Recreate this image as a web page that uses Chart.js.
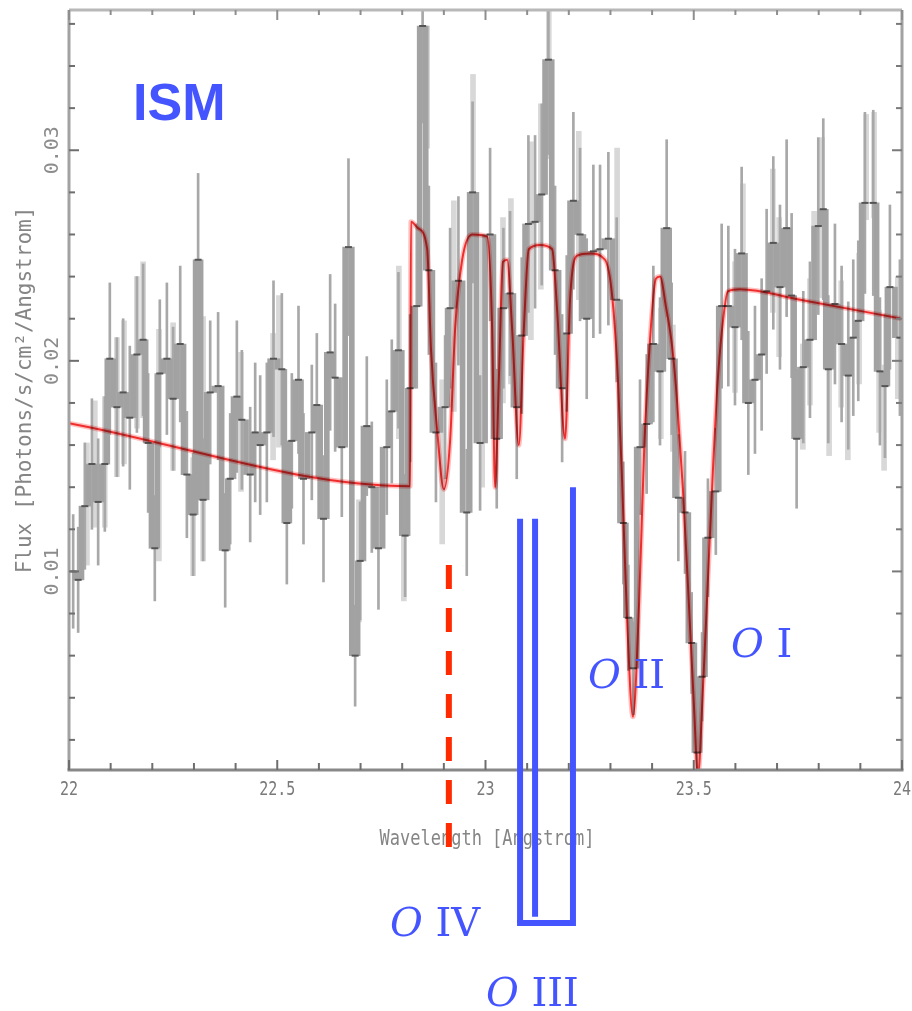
<!DOCTYPE html>
<html>
<head>
<meta charset="utf-8">
<script src="https://cdn.jsdelivr.net/npm/chart.js@4.4.1/dist/chart.umd.min.js"></script>
<style>
  html, body { margin: 0; padding: 0; background: #fff; }
  #wrap { width: 912px; height: 1011px; }
</style>
</head>
<body>
<div id="wrap"><canvas id="spec" width="912" height="1011"></canvas></div>
<script>
// measured spectrum (darker histogram), wavelength in Angstrom
const darkWave = [
  22.010, 22.022, 22.038, 22.055, 22.070, 22.086, 22.098, 22.115, 22.130, 22.146,
  22.163, 22.178, 22.190, 22.206, 22.218, 22.235, 22.250, 22.267, 22.283, 22.298,
  22.310, 22.322, 22.339, 22.358, 22.375, 22.387, 22.403, 22.415, 22.435, 22.447,
  22.459, 22.475, 22.491, 22.511, 22.523, 22.535, 22.551, 22.563, 22.583, 22.595,
  22.611, 22.627, 22.639, 22.655, 22.671, 22.687, 22.699, 22.715, 22.727, 22.743,
  22.763, 22.775, 22.791, 22.807, 22.819, 22.835, 22.849, 22.864, 22.881, 22.903,
  22.915, 22.935, 22.955, 22.969, 22.987, 23.011, 23.027, 23.043, 23.059, 23.075,
  23.087, 23.103, 23.119, 23.135, 23.151, 23.167, 23.184, 23.195, 23.211, 23.227,
  23.243, 23.259, 23.275, 23.295, 23.315, 23.331, 23.343, 23.355, 23.371, 23.387,
  23.403, 23.419, 23.435, 23.447, 23.463, 23.479, 23.495, 23.508, 23.520, 23.534,
  23.553, 23.567, 23.583, 23.599, 23.615, 23.631, 23.647, 23.663, 23.675, 23.691,
  23.707, 23.723, 23.735, 23.747, 23.763, 23.779, 23.799, 23.811, 23.823, 23.839,
  23.855, 23.871, 23.883, 23.895, 23.911, 23.931, 23.947, 23.959, 23.971, 23.995
];
const darkFlux = [
  0.0100, 0.0096, 0.0131, 0.0151, 0.0133, 0.0151, 0.0201, 0.0178, 0.0185, 0.0173,
  0.0203, 0.0210, 0.0161, 0.0111, 0.0194, 0.0201, 0.0182, 0.0208, 0.0146, 0.0127,
  0.0248, 0.0134, 0.0185, 0.0188, 0.0110, 0.0144, 0.0183, 0.0172, 0.0146, 0.0166,
  0.0160, 0.0166, 0.0201, 0.0196, 0.0123, 0.0162, 0.0191, 0.0144, 0.0166, 0.0179,
  0.0125, 0.0204, 0.0192, 0.0159, 0.0254, 0.0060, 0.0105, 0.0169, 0.0140, 0.0111,
  0.0159, 0.0176, 0.0205, 0.0117, 0.0187, 0.0226, 0.0359, 0.0243, 0.0166, 0.0178,
  0.0225, 0.0238, 0.0128, 0.0280, 0.0161, 0.0260, 0.0163, 0.0225, 0.0232, 0.0178,
  0.0212, 0.0265, 0.0266, 0.0279, 0.0343, 0.0243, 0.0187, 0.0213, 0.0276, 0.0260,
  0.0220, 0.0252, 0.0253, 0.0258, 0.0229, 0.0123, 0.0078, 0.0054, 0.0159, 0.0170,
  0.0208, 0.0195, 0.0263, 0.0201, 0.0135, 0.0128, 0.0066, 0.0014, 0.0050, 0.0116,
  0.0138, 0.0226, 0.0226, 0.0216, 0.0251, 0.0180, 0.0191, 0.0203, 0.0233, 0.0256,
  0.0235, 0.0263, 0.0231, 0.0163, 0.0197, 0.0210, 0.0264, 0.0272, 0.0196, 0.0227,
  0.0208, 0.0193, 0.0211, 0.0219, 0.0275, 0.0275, 0.0195, 0.0188, 0.0235, 0.0211
];
const darkErr = [
  0.0027, 0.0025, 0.0030, 0.0031, 0.0030, 0.0032, 0.0036, 0.0033, 0.0035, 0.0034,
  0.0037, 0.0036, 0.0033, 0.0025, 0.0035, 0.0036, 0.0034, 0.0037, 0.0030, 0.0029,
  0.0041, 0.0029, 0.0034, 0.0035, 0.0027, 0.0031, 0.0036, 0.0033, 0.0032, 0.0033,
  0.0033, 0.0033, 0.0037, 0.0036, 0.0029, 0.0032, 0.0035, 0.0031, 0.0032, 0.0034,
  0.0030, 0.0037, 0.0035, 0.0033, 0.0042, 0.0024, 0.0028, 0.0033, 0.0031, 0.0029,
  0.0032, 0.0034, 0.0037, 0.0029, 0.0035, 0.0039, 0.0046, 0.0040, 0.0033, 0.0034,
  0.0038, 0.0040, 0.0030, 0.0043, 0.0032, 0.0041, 0.0033, 0.0038, 0.0039, 0.0034,
  0.0037, 0.0042, 0.0041, 0.0043, 0.0045, 0.0040, 0.0035, 0.0037, 0.0042, 0.0041,
  0.0038, 0.0041, 0.0040, 0.0041, 0.0039, 0.0029, 0.0025, 0.0022, 0.0032, 0.0033,
  0.0037, 0.0035, 0.0042, 0.0036, 0.0030, 0.0029, 0.0024, 0.0015, 0.0021, 0.0028,
  0.0030, 0.0039, 0.0038, 0.0037, 0.0041, 0.0034, 0.0035, 0.0036, 0.0039, 0.0041,
  0.0039, 0.0042, 0.0039, 0.0033, 0.0036, 0.0037, 0.0042, 0.0043, 0.0035, 0.0038,
  0.0037, 0.0035, 0.0037, 0.0038, 0.0043, 0.0044, 0.0035, 0.0034, 0.0039, 0.0037
];

// second (lighter) spectrum
const lightWave = [
  22.043, 22.062, 22.086, 22.115, 22.132, 22.163, 22.178, 22.216, 22.250, 22.298,
  22.322, 22.413, 22.490, 22.504, 22.696, 22.792, 22.804, 22.860, 22.896, 22.924,
  22.970, 22.992, 23.042, 23.061, 23.109, 23.133, 23.152, 23.224, 23.316, 23.323,
  23.421, 23.450, 23.599, 23.618, 23.690, 23.705, 23.762, 23.779, 23.789, 23.808,
  23.825, 23.854, 23.870, 23.897, 23.914, 23.933, 23.945, 23.957, 23.990
];
const lightFlux = [
  0.0132, 0.0151, 0.0152, 0.0178, 0.0185, 0.0204, 0.0210, 0.0160, 0.0183, 0.0126,
  0.0163, 0.0171, 0.0183, 0.0195, 0.0105, 0.0204, 0.0116, 0.0330, 0.0152, 0.0226,
  0.0308, 0.0200, 0.0224, 0.0233, 0.0257, 0.0278, 0.0331, 0.0269, 0.0258, 0.0169,
  0.0194, 0.0187, 0.0216, 0.0251, 0.0257, 0.0235, 0.0183, 0.0209, 0.0251, 0.0268,
  0.0180, 0.0208, 0.0178, 0.0220, 0.0292, 0.0293, 0.0195, 0.0173, 0.0211
];
const lightErr = [
  0.0029, 0.0030, 0.0031, 0.0033, 0.0034, 0.0036, 0.0037, 0.0055, 0.0035, 0.0028,
  0.0058, 0.0033, 0.0030, 0.0036, 0.0029, 0.0041, 0.0030, 0.0029, 0.0039, 0.0050,
  0.0028, 0.0060, 0.0044, 0.0044, 0.0047, 0.0044, 0.0035, 0.0040, 0.0043, 0.0045,
  0.0031, 0.0030, 0.0031, 0.0033, 0.0034, 0.0033, 0.0025, 0.0030, 0.0020, 0.0038,
  0.0025, 0.0030, 0.0025, 0.0031, 0.0025, 0.0025, 0.0029, 0.0025, 0.0029
];

// absorption model (red)
const modelWave = [
  22.000, 22.819, 22.821, 22.838, 22.860, 22.869, 22.884, 22.900, 22.915, 22.927,
  22.944, 22.968, 23.004, 23.016, 23.023, 23.032, 23.042, 23.052, 23.064, 23.080,
  23.092, 23.104, 23.131, 23.160, 23.172, 23.191, 23.203, 23.220, 23.251, 23.287,
  23.304, 23.318, 23.328, 23.340, 23.354, 23.369, 23.381, 23.395, 23.409, 23.419,
  23.433, 23.448, 23.460, 23.474, 23.489, 23.501, 23.510, 23.522, 23.534, 23.546,
  23.556, 23.568, 23.582, 23.611, 23.755, 24.000
];
const modelFlux = [
  0.01704, 0.01405, 0.0266, 0.0263, 0.0253, 0.0206, 0.0167, 0.0139, 0.0162, 0.0215,
  0.0248, 0.0260, 0.0259, 0.0215, 0.0140, 0.0191, 0.0247, 0.0248, 0.0215, 0.0160,
  0.0215, 0.0253, 0.0255, 0.0253, 0.0224, 0.0163, 0.0229, 0.0250, 0.0251, 0.0248,
  0.0231, 0.0191, 0.0143, 0.0077, 0.0031, 0.0086, 0.0158, 0.0210, 0.0239, 0.0240,
  0.0226, 0.0207, 0.0181, 0.0139, 0.0082, 0.0034, 0.0003, 0.0044, 0.0096, 0.0148,
  0.0186, 0.0215, 0.0233, 0.0234, 0.0229, 0.0220
];

const xTicks = [22, 22.5, 23, 23.5, 24];
const xTickLabels = ['22', '22.5', '23', '23.5', '24'];
const yTicks = [0.01, 0.02, 0.03];
const yTickLabels = ['0.01', '0.02', '0.03'];

// line markers
const oIVWave = 22.912;
const oIVRange = [0.0103, -0.0032];
const oIIIWaves = [23.083, 23.119, 23.210];
const oIIITop = [0.0125, 0.0125, 0.0140];
const oIIIBottom = [-0.0067, -0.0064, -0.0066];

const lightBoxes = lightWave.map((w, i) => ({ x: w, y: [lightFlux[i] - lightErr[i], lightFlux[i] + lightErr[i]] }));
const whiskers = darkWave.map((w, i) => ({ x: w, y: [darkFlux[i] - darkErr[i], darkFlux[i] + darkErr[i]] }));
const steps = darkWave.slice(1).map((w, i) => ({ x: (darkWave[i] + w) / 2, y: [darkFlux[i], darkFlux[i + 1]] }));
const levels = darkWave.map((w, i) => ({ x: w, y: darkFlux[i] }));
const model = modelWave.map((w, i) => ({ x: w, y: modelFlux[i] }));

const BLUE = 'rgb(68,85,255)';

function txt(ctx, s, x, y, font, color, o = {}) {
  ctx.save();
  ctx.translate(x, y);
  if (o.rot) ctx.rotate(o.rot);
  ctx.scale(o.sx || 1, o.sy || 1);
  ctx.font = font;
  ctx.fillStyle = color;
  ctx.textAlign = o.align || 'center';
  ctx.textBaseline = o.base || 'middle';
  ctx.fillText(s, 0, 0);
  ctx.restore();
}

function ionLabel(ctx, stage, x, y) {
  ctx.save();
  ctx.fillStyle = BLUE;
  ctx.textBaseline = 'alphabetic';
  ctx.textAlign = 'left';
  ctx.font = 'italic 40px "DejaVu Serif"';
  ctx.fillText('O', x, y);
  const w = ctx.measureText('O').width;
  ctx.font = '40px "DejaVu Serif"';
  ctx.fillText(' ' + stage, x + w, y);
  ctx.restore();
}

const deco = {
  id: 'deco',
  beforeDatasetDraw(chart, args) {
    if (chart.data.datasets[args.index].label.startsWith('model')) {
      chart.ctx.globalCompositeOperation = 'multiply';
    }
  },
  afterDatasetDraw(chart) {
    chart.ctx.globalCompositeOperation = 'source-over';
  },
  afterDraw(chart) {
    const { ctx, chartArea: a } = chart;
    const xs = chart.scales.x, ys = chart.scales.y;
    ctx.save();

    // frame
    ctx.lineWidth = 3;
    const edge = (c, x1, y1, x2, y2) => {
      ctx.strokeStyle = c; ctx.beginPath(); ctx.moveTo(x1, y1); ctx.lineTo(x2, y2); ctx.stroke();
    };
    edge('#b8b8b8', a.left, a.top, a.right, a.top);
    edge('#a2a2a2', a.left, a.top, a.left, a.bottom);
    edge('#a2a2a2', a.right, a.top, a.right, a.bottom);
    edge('#888888', a.left - 1.5, a.bottom, a.right + 1.5, a.bottom);

    // inward ticks
    ctx.lineWidth = 2;
    ctx.strokeStyle = '#6e6e6e';
    for (let k = 0; k <= 20; k++) {
      const px = xs.getPixelForValue(22 + k * 0.1);
      const major = k % 5 === 0;
      edge('#6e6e6e', px, a.bottom, px, a.bottom - (major ? 10 : 7));
      edge('#8e8e8e', px, a.top, px, a.top + (major ? 10 : 5));
    }
    for (let k = 1; k <= 18; k++) {
      const py = ys.getPixelForValue(k * 0.002);
      const major = k % 5 === 0;
      edge('#6e6e6e', a.left, py, a.left + (major ? 10 : 6), py);
      edge('#7a7a7a', a.right, py, a.right - (major ? 10 : 6), py);
    }

    // tick labels
    xTicks.forEach((v, i) => {
      txt(ctx, xTickLabels[i], xs.getPixelForValue(v), 790, '15px "DejaVu Sans Mono"', '#7a7a7a', { sy: 1.25 });
    });
    yTicks.forEach((v, i) => {
      txt(ctx, yTickLabels[i], 53, ys.getPixelForValue(v), '20px "DejaVu Sans Mono"', '#8c8c8c', { rot: -Math.PI / 2 });
    });

    // axis titles
    txt(ctx, 'Flux [Photons/s/cm\u00B2/Angstrom]', 26, 390, '21px "DejaVu Sans Mono"', '#858585', { rot: -Math.PI / 2 });
    txt(ctx, 'Wavelength [Angstrom]', 487, 840, '17px "DejaVu Sans Mono"', '#858585', { sy: 1.2 });

    // O IV marker (dashed red)
    ctx.lineWidth = 6;
    ctx.strokeStyle = '#ff2a00';
    ctx.setLineDash([24, 19]);
    const xo4 = xs.getPixelForValue(oIVWave);
    ctx.beginPath();
    ctx.moveTo(xo4, ys.getPixelForValue(oIVRange[0]));
    ctx.lineTo(xo4, ys.getPixelForValue(oIVRange[1]));
    ctx.stroke();
    ctx.setLineDash([]);

    // O III markers (blue)
    ctx.strokeStyle = BLUE;
    const xo3 = oIIIWaves.map(w => xs.getPixelForValue(w));
    xo3.forEach((px, i) => {
      ctx.beginPath();
      ctx.moveTo(px, ys.getPixelForValue(oIIITop[i]));
      ctx.lineTo(px, ys.getPixelForValue(oIIIBottom[i]));
      ctx.stroke();
    });
    const yb = ys.getPixelForValue(oIIIBottom[0]);
    ctx.beginPath();
    ctx.moveTo(xo3[0] - 3, yb);
    ctx.lineTo(xo3[2] + 3, yb);
    ctx.stroke();

    // labels
    txt(ctx, 'ISM', 133, 120, 'bold 52px "Liberation Sans"', BLUE, { align: 'left', base: 'alphabetic' });
    ionLabel(ctx, 'II', 588, 688);
    ionLabel(ctx, 'I', 731, 657);
    ionLabel(ctx, 'IV', 390, 936);
    ionLabel(ctx, 'III', 486, 1006);

    ctx.restore();
  }
};

new Chart(document.getElementById('spec').getContext('2d'), {
  type: 'bar',
  data: {
    datasets: [
      { label: 'light', type: 'bar', data: lightBoxes, backgroundColor: '#d8d8d8', barThickness: 5, grouped: false, order: 6 },
      { label: 'errors', type: 'bar', data: whiskers, backgroundColor: '#a8a8a8', barThickness: 2, grouped: false, order: 5 },
      { label: 'steps', type: 'bar', data: steps, backgroundColor: '#a2a2a2', barThickness: 5, grouped: false, order: 4 },
      {
        label: 'levels', type: 'scatter', data: levels, showLine: false,
        pointStyle: 'line', pointRadius: 3.5, pointBorderWidth: 2,
        pointBorderColor: '#555555', pointBackgroundColor: '#555555', order: 3
      },
      {
        label: 'model-halo', type: 'line', data: model, borderColor: 'rgba(255,150,150,0.6)',
        borderWidth: 5, pointRadius: 0, cubicInterpolationMode: 'monotone', fill: false, order: 2
      },
      {
        label: 'model', type: 'line', data: model, borderColor: 'rgb(240,60,60)',
        borderWidth: 2, pointRadius: 0, cubicInterpolationMode: 'monotone', fill: false, order: 1
      }
    ]
  },
  options: {
    responsive: false,
    animation: false,
    events: [],
    layout: { padding: { left: 69, right: 10, top: 10, bottom: 241 } },
    plugins: { legend: { display: false }, tooltip: { enabled: false } },
    scales: {
      x: { type: 'linear', min: 22, max: 24, display: false, offset: false },
      y: { type: 'linear', min: 0.00057, max: 0.03666, display: false }
    }
  },
  plugins: [deco]
});
</script>
</body>
</html>
